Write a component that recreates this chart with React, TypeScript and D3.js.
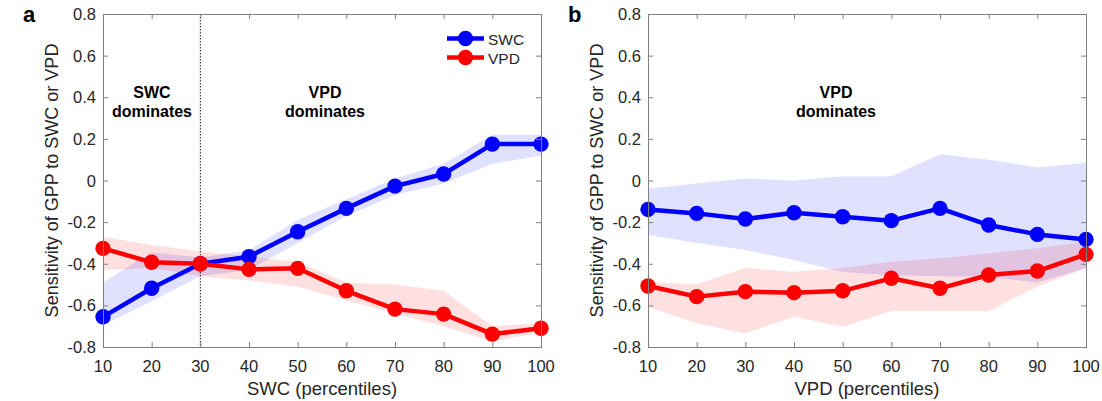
import React from 'react'
import * as d3 from 'd3'

// percentiles on x
const percentiles = [10, 20, 30, 40, 50, 60, 70, 80, 90, 100]
const yTicks = [-0.8, -0.6, -0.4, -0.2, 0, 0.2, 0.4, 0.6, 0.8]
const yTickLabels = ['-0.8', '-0.6', '-0.4', '-0.2', '0', '0.2', '0.4', '0.6', '0.8']

// panel a: binned by SWC
const swcA = [-0.655, -0.518, -0.4, -0.366, -0.246, -0.134, -0.027, 0.031, 0.175, 0.175]
const swcALo = [-0.695, -0.58, -0.46, -0.43, -0.3, -0.17, -0.07, -0.015, 0.08, 0.12]
const swcAHi = [-0.49, -0.345, -0.37, -0.335, -0.19, -0.09, 0.01, 0.08, 0.22, 0.22]
const vpdA = [-0.326, -0.393, -0.4, -0.427, -0.422, -0.53, -0.618, -0.642, -0.738, -0.71]
const vpdALo = [-0.43, -0.42, -0.46, -0.48, -0.51, -0.575, -0.64, -0.7, -0.775, -0.73]
const vpdAHi = [-0.27, -0.31, -0.34, -0.365, -0.39, -0.49, -0.5, -0.53, -0.7, -0.685]

// panel b: binned by VPD
const swcB = [-0.139, -0.158, -0.185, -0.155, -0.174, -0.193, -0.134, -0.214, -0.259, -0.283]
const swcBLo = [-0.262, -0.3, -0.334, -0.382, -0.44, -0.455, -0.46, -0.462, -0.49, -0.422]
const swcBHi = [-0.038, -0.014, 0.01, 0.0, 0.02, 0.02, 0.126, 0.1, 0.063, 0.085]
const vpdB = [-0.507, -0.558, -0.534, -0.539, -0.53, -0.47, -0.518, -0.454, -0.435, -0.355]
const vpdBLo = [-0.607, -0.687, -0.735, -0.655, -0.703, -0.627, -0.627, -0.627, -0.51, -0.42]
const vpdBHi = [-0.486, -0.5, -0.42, -0.438, -0.42, -0.39, -0.374, -0.35, -0.326, -0.294]

const FONT = '"Liberation Sans", Arial, Helvetica, sans-serif'
const BLUE = '#0000ff'
const RED = '#ff0000'
const AXIS = '#808080'
const TXT = '#262626'

const top = 14
const bottom = 347

type Series = { val: number[], lo: number[], hi: number[], color: string }

const Panel = ({ left, right, letter, xTitle, series, notes, divider, legend }: {
    left: number, right: number, letter: string, xTitle: string, series: Series[],
    notes: { x: number, lines: string[] }[], divider?: number, legend?: boolean
}) => {
    const x = d3.scaleLinear().domain([10, 100]).range([left, right])
    const y = d3.scaleLinear().domain([-0.8, 0.8]).range([bottom, top])

    const band = (s: Series) => d3.area<number>()
        .x((d, i) => x(percentiles[i]))
        .y0((d, i) => y(s.lo[i]))
        .y1((d, i) => y(s.hi[i]))(s.val)
    const line = d3.line<number>()
        .x((d, i) => x(percentiles[i]))
        .y(d => y(d))

    const tick = 5
    return (
        <g>
            {series.map((s, k) => <path key={'b' + k} d={band(s) || ''} fill={s.color} fillOpacity={0.12} />)}
            {divider !== undefined &&
                <line x1={x(divider)} x2={x(divider)} y1={top} y2={bottom} stroke="#222" strokeWidth={1} strokeDasharray="1.5,1.5" />}
            {series.map((s, k) => (
                <g key={'l' + k}>
                    <path d={line(s.val) || ''} fill="none" stroke={s.color} strokeWidth={4.5} strokeLinejoin="round" />
                    {s.val.map((v, i) => <circle key={i} cx={x(percentiles[i])} cy={y(v)} r={7.7} fill={s.color} />)}
                </g>
            ))}
            {/* box + ticks */}
            <rect x={left + 0.5} y={top + 0.5} width={right - left} height={bottom - top} fill="none" stroke={AXIS} strokeWidth={1} />
            {percentiles.map(p => (
                <g key={'xt' + p}>
                    <line x1={x(p) + 0.5} x2={x(p) + 0.5} y1={bottom} y2={bottom - tick} stroke={AXIS} />
                    <line x1={x(p) + 0.5} x2={x(p) + 0.5} y1={top} y2={top + tick} stroke={AXIS} />
                    <text x={x(p)} y={372} textAnchor="middle" fontSize={16.5} fill={TXT} fontFamily={FONT}>{p}</text>
                </g>
            ))}
            {yTicks.map((t, i) => (
                <g key={'yt' + i}>
                    <line x1={left} x2={left + tick} y1={y(t) + 0.5} y2={y(t) + 0.5} stroke={AXIS} />
                    <line x1={right} x2={right - tick} y1={y(t) + 0.5} y2={y(t) + 0.5} stroke={AXIS} />
                    <text x={left - 7} y={y(t) + 6} textAnchor="end" fontSize={16.5} fill={TXT} fontFamily={FONT}>{yTickLabels[i]}</text>
                </g>
            ))}
            <text x={(left + right) / 2} y={395} textAnchor="middle" fontSize={18.5} fill={TXT} fontFamily={FONT}>{xTitle}</text>
            <text transform={`translate(${left - 45}, ${(top + bottom) / 2}) rotate(-90)`} textAnchor="middle"
                fontSize={18} fill={TXT} fontFamily={FONT}>Sensitivity of GPP to SWC or VPD</text>
            <text x={left - 80} y={22} fontSize={22} fontWeight="bold" fill="#000" fontFamily={FONT}>{letter}</text>
            {notes.map((n, k) => (
                <text key={'n' + k} textAnchor="middle" fontSize={16} fontWeight="bold" fill="#000" fontFamily={FONT}>
                    {n.lines.map((l, j) => <tspan key={j} x={n.x} y={98 + j * 19}>{l}</tspan>)}
                </text>
            ))}
            {legend && series.map((s, k) => (
                <g key={'lg' + k}>
                    <line x1={447} x2={484} y1={38.5 + k * 19} y2={38.5 + k * 19} stroke={s.color} strokeWidth={4.5} />
                    <circle cx={465.5} cy={38.5 + k * 19} r={7.7} fill={s.color} />
                    <text x={488} y={44.5 + k * 19} fontSize={15.5} fill={TXT} fontFamily={FONT}>{k === 0 ? 'SWC' : 'VPD'}</text>
                </g>
            ))}
        </g>
    )
}

export default function App() {
    const a: Series[] = [
        { val: swcA, lo: swcALo, hi: swcAHi, color: BLUE },
        { val: vpdA, lo: vpdALo, hi: vpdAHi, color: RED },
    ]
    const b: Series[] = [
        { val: swcB, lo: swcBLo, hi: swcBHi, color: BLUE },
        { val: vpdB, lo: vpdBLo, hi: vpdBHi, color: RED },
    ]
    return (
        <svg width={1102} height={401} style={{ position: 'absolute', left: 0, top: 0, background: '#fff' }}>
            <Panel left={103} right={541} letter="a" xTitle="SWC (percentiles)" series={a} divider={30} legend
                notes={[{ x: 152, lines: ['SWC', 'dominates'] }, { x: 325, lines: ['VPD', 'dominates'] }]} />
            <Panel left={648} right={1086} letter="b" xTitle="VPD (percentiles)" series={b}
                notes={[{ x: 836, lines: ['VPD', 'dominates'] }]} />
        </svg>
    )
}
